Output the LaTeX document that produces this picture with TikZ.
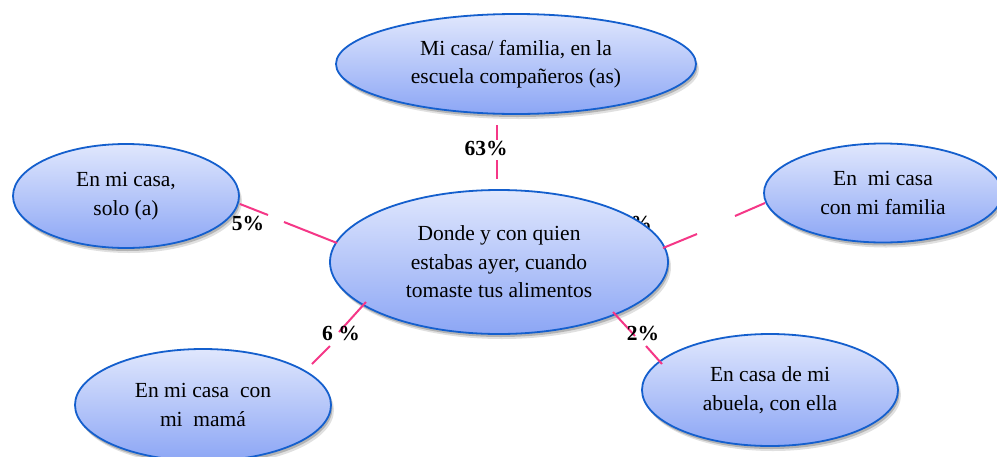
\documentclass[tikz,border=0pt]{standalone}
\usepackage{fontspec}
\setmainfont{Liberation Serif}
\usetikzlibrary{shapes.geometric,shadows}
\definecolor{edgeblue}{RGB}{20,95,205}
\definecolor{topfill}{RGB}{224,231,253}
\definecolor{botfill}{RGB}{140,166,245}
\definecolor{linkpink}{RGB}{245,55,135}
\tikzset{
  bubble/.style={ellipse, draw=edgeblue, line width=1.8pt, top color=topfill, bottom color=botfill,
    inner sep=0pt, align=center, font=\fontsize{21.5}{28.5}\selectfont,
    drop shadow={shadow xshift=3pt, shadow yshift=-5pt, opacity=0.12, fill=black},
    drop shadow={shadow xshift=1.5pt, shadow yshift=-3pt, opacity=0.2, fill=black}},
  conn/.style={draw=linkpink, line width=2pt},
  pct/.style={font=\fontsize{21.5}{24}\selectfont\bfseries, inner sep=0pt}
}
\begin{document}
\begin{tikzpicture}[x=1pt,y=-1pt]
\useasboundingbox (0,0) rectangle (997,456);
\fill[white] (0,0) rectangle (997,456);
% hidden label partly behind the centre ellipse
\node[pct] (pr) at (641,223) {\%};
% ellipses
\node[bubble, minimum width=360pt, minimum height=100pt] (top) at (516,64)
  {Mi casa/ familia, en la\\escuela compañeros (as)};
\node[bubble, minimum width=226pt, minimum height=104pt] (left) at (126,196)
  {En mi casa,\\solo (a)};
\node[bubble, minimum width=238pt, minimum height=99pt] (right) at (883,193)
  {En\ \ mi casa\\con mi familia};
\node[bubble, minimum width=256pt, minimum height=112pt] (bl) at (203,405)
  {En mi casa\ \ con\\mi\ \ mamá};
\node[bubble, minimum width=256pt, minimum height=112pt] (br) at (770,390)
  {En casa de mi\\abuela, con ella};
\node[bubble, minimum width=338pt, minimum height=144pt] (ctr) at (499,262)
  {Donde y con quien\\estabas ayer, cuando\\tomaste tus alimentos};
% connector segments
\coordinate (t1) at (497,125); \coordinate (t2) at (497,140);
\coordinate (t3) at (497,160); \coordinate (t4) at (497,179);
\coordinate (l1) at (240,204); \coordinate (l2) at (268,215);
\coordinate (l3) at (284,222); \coordinate (l4) at (337,243);
\coordinate (r1) at (663,248); \coordinate (r2) at (697,234);
\coordinate (r3) at (735,216); \coordinate (r4) at (765,203);
\coordinate (a1) at (366,302); \coordinate (a2) at (339,332);
\coordinate (a3) at (330,346); \coordinate (a4) at (312,364);
\coordinate (b1) at (613,312); \coordinate (b2) at (635,336);
\coordinate (b3) at (646,346); \coordinate (b4) at (662,364);
\draw[conn] (t1) -- (t2); \draw[conn] (t3) -- (t4);
\draw[conn] (l1) -- (l2); \draw[conn] (l3) -- (l4);
\draw[conn] (r1) -- (r2); \draw[conn] (r3) -- (r4);
\draw[conn] (a1) -- (a2); \draw[conn] (a3) -- (a4);
\draw[conn] (b1) -- (b2); \draw[conn] (b3) -- (b4);
% percentage labels
\node[pct] (p63) at (486,148) {63\%};
\node[pct] (p5) at (248,223) {5\%};
\node[pct] (p6) at (341,333) {6 \%};
\node[pct] (p2) at (643,333) {2\%};
\end{tikzpicture}
\end{document}
